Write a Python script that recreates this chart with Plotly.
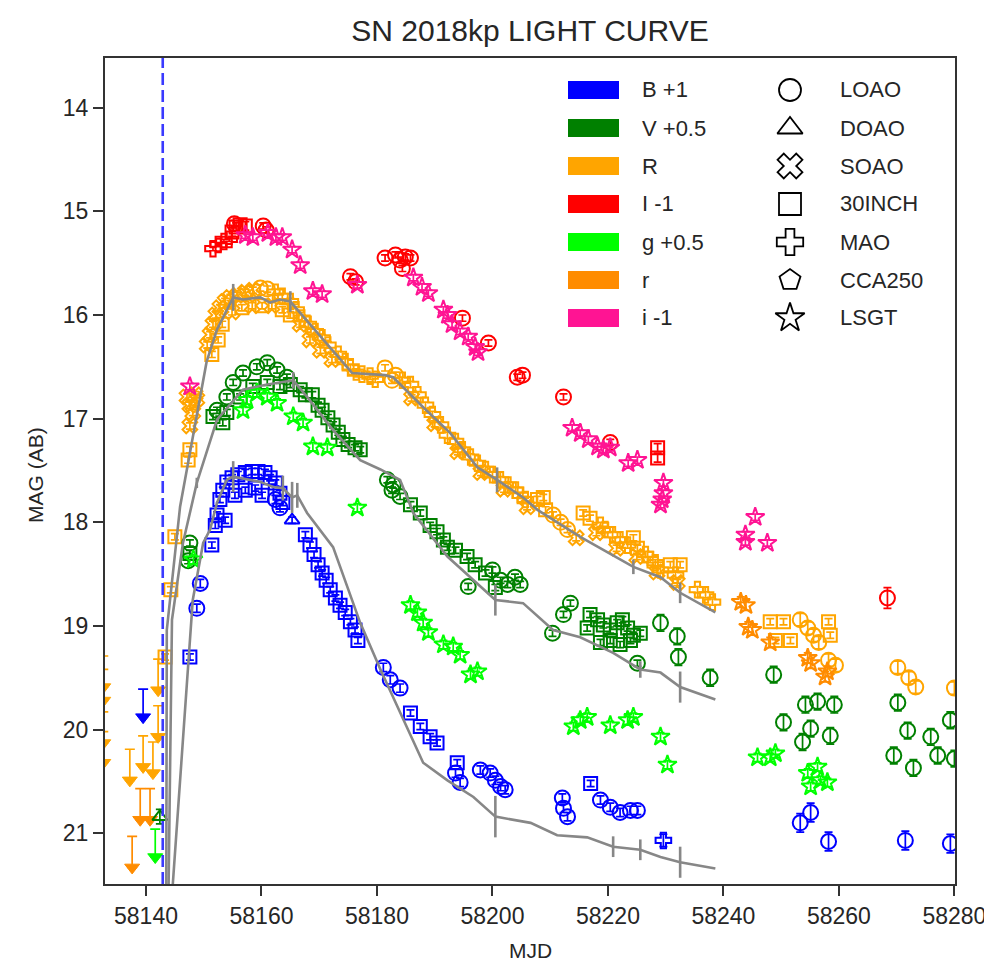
import plotly.graph_objects as go

# ---------------- DATA (plotted magnitudes, offsets already applied) ----------------
B_LOAO_mjd = [58148.8, 58149.4, 58162.4, 58163.2, 58181.1, 58182.3, 58184.0, 58193.6, 58194.4, 58197.9, 58199.6,
              58200.5, 58201.4, 58202.2, 58212.1, 58212.3, 58213.0, 58218.7, 58220.4, 58222.1, 58223.9, 58225.1]
B_LOAO_mag = [18.83, 18.59, 17.78, 17.86, 19.40, 19.52, 19.60, 20.42, 20.51, 20.39, 20.42,
              20.49, 20.55, 20.58, 20.66, 20.76, 20.84, 20.68, 20.75, 20.80, 20.78, 20.78]
B_LOAO_late_mjd = [58253.3, 58255.1, 58258.2, 58271.5, 58279.3]
B_LOAO_late_mag = [20.90, 20.80, 21.08, 21.07, 21.10]
B_30INCH_mjd = [58147.6, 58152.3, 58152.8, 58153.3, 58154.0, 58154.9, 58155.9, 58157.2, 58158.4, 58159.4, 58160.6,
                58161.5, 58162.4, 58163.2, 58163.7, 58151.4, 58152.0, 58153.7, 58155.4, 58157.2, 58158.9, 58160.1,
                58167.6, 58168.4, 58169.1, 58169.8, 58170.5, 58171.2, 58171.9, 58172.8, 58173.6, 58174.5, 58175.4,
                58176.2, 58176.7, 58185.8, 58187.5, 58189.2, 58190.4, 58193.9, 58217.0]
B_30INCH_mag = [19.30, 17.93, 17.78, 17.69, 17.61, 17.57, 17.54, 17.52, 17.51, 17.51, 17.52,
                17.57, 17.62, 17.72, 17.81, 18.22, 18.03, 17.98, 17.74, 17.69, 17.67, 17.74,
                18.12, 18.22, 18.31, 18.41, 18.49, 18.56, 18.65, 18.73, 18.80, 18.87, 18.96,
                19.04, 19.14, 19.84, 19.97, 20.07, 20.13, 20.32, 20.52]
B_DOAO_mjd = [58165.3]
B_DOAO_mag = [17.98]
B_MAO_mjd = [58229.6]
B_MAO_mag = [21.07]
B_UL_mjd = [58139.5]
B_UL_mag = [19.88]

V_LOAO_mjd = [58147.6, 58147.3, 58152.3, 58154.0, 58155.1, 58156.8, 58159.2, 58161.0, 58162.7, 58164.4,
              58181.8, 58182.8, 58182.6, 58184.0, 58195.8, 58200.0, 58201.4, 58202.6, 58203.9, 58204.8,
              58210.4, 58212.3, 58213.5, 58225.1]
V_LOAO_mag = [18.20, 18.37, 16.92, 16.79, 16.65, 16.56, 16.50, 16.46, 16.53, 16.60,
              17.59, 17.64, 17.69, 17.75, 18.62, 18.46, 18.56, 18.60, 18.53, 18.60,
              19.07, 18.89, 18.78, 19.36]
V_LOAO_late_mjd = [58229.1, 58232.0, 58232.2, 58237.7, 58248.7, 58250.4, 58254.2, 58256.3, 58259.2, 58253.7,
                   58255.1, 58258.5, 58270.2, 58271.9, 58269.5, 58272.9, 58275.9, 58277.1, 58279.3, 58280.0]
V_LOAO_late_mag = [18.97, 19.10, 19.30, 19.50, 19.47, 19.93, 19.76, 19.73, 19.76, 20.12,
                   19.99, 20.06, 19.74, 20.01, 20.25, 20.37, 20.07, 20.25, 19.91, 20.28]
V_30INCH_mjd = [58147.6, 58151.6, 58153.3, 58154.0, 58156.3, 58158.5, 58161.0, 58163.2, 58165.0, 58166.7,
                58167.6, 58168.8, 58169.8, 58170.5, 58171.5, 58172.4, 58173.3, 58174.1, 58175.0, 58176.2,
                58177.1, 58185.8, 58187.5, 58189.2, 58190.4, 58191.5, 58192.2, 58193.6, 58195.6, 58197.0,
                58198.8, 58200.5, 58216.4, 58216.9, 58218.2, 58219.2, 58220.4, 58221.6, 58222.5, 58223.4,
                58224.4, 58218.7, 58220.4, 58222.1, 58223.9, 58225.6]
V_30INCH_mag = [18.30, 16.98, 17.04, 16.94, 16.79, 16.69, 16.65, 16.69, 16.67, 16.72,
                16.77, 16.77, 16.87, 16.92, 16.99, 17.06, 17.13, 17.20, 17.25, 17.28,
                17.30, 17.83, 17.91, 18.03, 18.09, 18.17, 18.24, 18.27, 18.33, 18.41,
                18.49, 18.63, 19.02, 18.89, 18.94, 18.99, 19.04, 18.97, 18.94, 19.02,
                19.09, 19.16, 19.14, 19.18, 19.14, 19.07]
V_DOAO_mjd = [58142.4]
V_DOAO_mag = [20.84]

R_LOAO_mjd = [58159.8, 58161.0, 58181.4, 58182.6, 58183.2, 58210.5, 58211.8, 58213.0]
R_LOAO_mag = [15.74, 15.75, 16.51, 16.63, 16.58, 17.93, 18.00, 18.07]
R_LOAO_late_mjd = [58253.3, 58254.6, 58255.6, 58256.5, 58258.2, 58259.4, 58270.2, 58272.1, 58273.3, 58280.0]
R_LOAO_late_mag = [18.94, 19.02, 19.09, 19.16, 19.33, 19.38, 19.40, 19.50, 19.59, 19.60]
R_30INCH_mjd = [58143.3, 58144.3, 58145.0, 58147.3, 58147.6, 58151.4, 58152.5, 58153.2, 58156.6, 58160.1,
                58163.6, 58165.0, 58207.8, 58209.2, 58208.8, 58215.7, 58216.9, 58224.4, 58225.1, 58230.8,
                58232.5, 58248.1, 58250.4, 58249.0, 58251.6, 58258.2, 58258.5]
R_30INCH_mag = [19.30, 18.65, 18.14, 17.40, 17.30, 16.38, 16.24, 16.09, 15.93, 15.91,
                15.95, 16.00, 17.78, 17.88, 17.76, 17.91, 17.96, 18.15, 18.25, 18.41,
                18.41, 18.96, 18.96, 19.14, 19.14, 18.96, 19.09]
R_SOAO_mjd = [58147.1, 58147.6, 58148.1, 58147.6, 58148.5, 58148.8, 58150.6, 58151.1, 58151.6, 58152.1,
              58152.8, 58153.7, 58154.6, 58155.8, 58157.2, 58158.5, 58154.9, 58158.4, 58161.8, 58166.7,
              58168.4, 58170.2, 58172.2, 58186.0, 58190.0, 58194.0, 58198.0, 58202.0, 58206.0, 58214.5,
              58218.0, 58221.5, 58225.0, 58228.5, 58232.0]
R_SOAO_mag = [16.79, 16.87, 16.94, 17.07, 16.77, 16.81, 16.29, 16.19, 16.09, 16.00,
              15.93, 15.87, 15.83, 15.81, 15.78, 15.76, 15.97, 15.91, 15.91, 16.09,
              16.24, 16.34, 16.43, 16.80, 17.05, 17.32, 17.52, 17.68, 17.85, 18.15,
              18.10, 18.25, 18.33, 18.48, 18.58]
R_MAO_mjd = [58162.4, 58163.6, 58165.0, 58166.0, 58167.0, 58168.1, 58169.3, 58170.5, 58171.5, 58173.3,
             58174.5, 58175.4, 58176.4, 58177.4, 58178.8, 58179.7, 58184.4, 58185.8, 58187.1, 58188.4,
             58189.6, 58191.0, 58192.2, 58193.6, 58194.8, 58196.2, 58197.4, 58198.8, 58200.0, 58201.4,
             58202.7, 58204.0, 58204.8, 58205.7, 58218.7, 58219.5, 58220.8, 58222.1, 58223.4, 58226.5,
             58227.3, 58228.2, 58229.1, 58231.7, 58235.5, 58236.9, 58238.1]
R_MAO_mag = [15.78, 15.82, 15.87, 15.95, 16.03, 16.09, 16.16, 16.22, 16.29, 16.38,
             16.45, 16.51, 16.55, 16.57, 16.59, 16.62, 16.63, 16.67, 16.77, 16.87,
             16.96, 17.06, 17.16, 17.22, 17.30, 17.37, 17.43, 17.49, 17.54, 17.59,
             17.64, 17.69, 17.74, 17.78, 18.03, 18.07, 18.12, 18.17, 18.22, 18.31,
             18.36, 18.39, 18.46, 18.51, 18.65, 18.70, 18.77]
R_UL_mjd = [58137.2, 58139.5, 58141.2, 58142.1, 58142.1, 58132.6, 58132.6, 58132.6, 58132.6]
R_UL_mag = [20.49, 20.36, 20.42, 20.07, 19.62, 19.59, 19.72, 20.13, 20.32]

I_LOAO_mjd = [58155.3, 58160.3, 58160.8, 58175.4, 58176.3, 58181.4, 58183.2, 58184.0, 58184.9, 58185.8,
              58184.4, 58194.8, 58199.3, 58204.3, 58205.2, 58212.3, 58220.4]
I_LOAO_mag = [15.12, 15.14, 15.18, 15.63, 15.68, 15.45, 15.42, 15.47, 15.44, 15.45,
              15.55, 16.03, 16.27, 16.60, 16.58, 16.79, 17.23]
I_LOAO_late_mjd = [58268.4]
I_LOAO_late_mag = [18.73]
I_30INCH_mjd = [58154.9, 58155.6, 58156.3, 58157.2, 58228.6, 58228.6]
I_30INCH_mag = [15.20, 15.15, 15.13, 15.14, 17.28, 17.38]
I_MAO_mjd = [58151.6, 58152.5, 58153.5, 58154.4]
I_MAO_mag = [15.36, 15.32, 15.29, 15.27]

g_LSGT_mjd = [58148.2, 58157.5, 58159.2, 58161.0, 58162.7, 58156.8, 58165.5, 58167.2, 58168.9, 58171.4,
              58176.6, 58185.8, 58187.0, 58188.0, 58188.9, 58191.5, 58193.2, 58194.4, 58196.2, 58197.4,
              58215.2, 58216.4, 58214.0, 58220.4, 58223.4, 58224.4, 58229.1, 58230.3, 58245.9, 58248.1,
              58249.0, 58256.3, 58256.8, 58255.1, 58254.6, 58258.0]
g_LSGT_mag = [18.36, 16.82, 16.75, 16.79, 16.85, 16.92, 16.98, 17.04, 17.27, 17.28,
              17.86, 18.80, 18.87, 18.97, 19.06, 19.18, 19.20, 19.28, 19.47, 19.44,
              19.91, 19.88, 19.97, 19.96, 19.91, 19.88, 20.07, 20.34, 20.27, 20.27,
              20.23, 20.36, 20.49, 20.55, 20.42, 20.51]
g_UL_mjd = [58141.6]
g_UL_mag = [21.23]

r_LSGT_mjd = [58243.0, 58243.9, 58244.3, 58245.0, 58248.1, 58254.6, 58255.1, 58258.0, 58257.6]
r_LSGT_mag = [18.77, 18.80, 19.01, 19.04, 19.16, 19.31, 19.36, 19.44, 19.49]
r_UL_mjd = [58137.6, 58139.0, 58140.7]
r_UL_mag = [21.33, 20.87, 20.87]

i_LSGT_mjd = [58147.6, 58157.2, 58158.5, 58161.1, 58162.5, 58163.6, 58165.3, 58166.7, 58168.9, 58170.5,
              58176.6, 58186.3, 58187.8, 58188.9, 58191.5, 58192.2, 58193.0, 58194.4, 58195.8, 58197.0,
              58197.5, 58213.8, 58215.2, 58216.6, 58218.2, 58219.2, 58220.4, 58223.5, 58225.1, 58229.6,
              58229.6, 58229.4, 58229.1, 58245.5, 58243.8, 58243.8, 58247.6]
i_LSGT_mag = [16.69, 15.23, 15.25, 15.21, 15.25, 15.25, 15.37, 15.52, 15.77, 15.80,
              15.71, 15.64, 15.73, 15.79, 15.95, 16.00, 16.09, 16.16, 16.21, 16.31,
              16.36, 17.09, 17.14, 17.20, 17.27, 17.30, 17.28, 17.43, 17.40, 17.62,
              17.72, 17.78, 17.83, 17.95, 18.12, 18.19, 18.20]

model_R_mjd = [58143.5, 58143.6, 58145.9, 58148.8, 58150.5, 58152.3, 58155.1, 58156.8, 58159.8, 58161.5,
               58163.2, 58165.0, 58169.6, 58173.6, 58175.7, 58181.4, 58182.8, 58188.0, 58192.7, 58197.4,
               58200.8, 58205.3, 58207.8, 58215.2, 58224.4, 58229.1, 58232.5, 58238.6]
model_R_mag = [22.0, 19.04, 17.85, 16.95, 16.45, 16.14, 15.83, 15.85, 15.83, 15.88,
               15.85, 15.87, 16.17, 16.43, 16.56, 16.58, 16.60, 16.89, 17.14, 17.47,
               17.59, 17.76, 17.88, 18.14, 18.43, 18.53, 18.68, 18.87]
model_R_err = [0, 0, 0, 0, 0, 0, 0.13, 0, 0, 0,
               0, 0.1, 0, 0, 0, 0, 0, 0, 0, 0,
               0.12, 0, 0, 0, 0.07, 0, 0.1, 0]
model_V_mjd = [58143.8, 58144.5, 58146.4, 58148.8, 58152.3, 58156.8, 58161.0, 58163.2, 58165.5, 58167.9,
               58172.4, 58177.1, 58180.6, 58184.0, 58186.3, 58192.2, 58196.7, 58200.5, 58205.3, 58210.5,
               58215.2, 58220.9, 58225.6, 58229.1, 58232.5, 58238.6]
model_V_mag = [22.0, 18.94, 18.20, 17.62, 17.01, 16.72, 16.67, 16.65, 16.63, 16.79,
               17.11, 17.40, 17.49, 17.59, 17.91, 18.33, 18.56, 18.75, 18.78, 19.04,
               19.11, 19.26, 19.42, 19.45, 19.59, 19.71]
model_V_err = [0, 0, 0, 0.05, 0, 0, 0, 0, 0.08, 0,
               0, 0, 0, 0, 0, 0, 0, 0.15, 0, 0,
               0, 0, 0.08, 0, 0.15, 0]
model_B_mjd = [58144.0, 58148.1, 58149.9, 58151.1, 58152.3, 58154.0, 58155.1, 58159.8, 58162.0, 58163.7,
               58165.3, 58166.2, 58167.9, 58172.4, 58177.1, 58180.6, 58188.0, 58192.2, 58196.7, 58200.5,
               58206.6, 58211.2, 58216.4, 58220.9, 58225.6, 58229.1, 58232.5, 58238.6]
model_B_mag = [22.0, 18.75, 18.20, 18.07, 17.81, 17.59, 17.56, 17.61, 17.66, 17.67,
               17.76, 17.74, 17.91, 18.24, 18.97, 19.42, 20.32, 20.49, 20.65, 20.84,
               20.90, 21.02, 21.04, 21.13, 21.16, 21.23, 21.28, 21.34]
model_B_err = [0, 0, 0, 0, 0, 0, 0.15, 0, 0, 0.12,
               0.15, 0.12, 0, 0, 0, 0, 0, 0, 0, 0.2,
               0, 0, 0, 0.1, 0.1, 0, 0.15, 0]

explosion_mjd = 58142.9

band_labels = ["B +1", "V +0.5", "R", "I -1", "g +0.5", "r", "i -1"]
band_colors = ["#0000ff", "#008000", "#ffa500", "#ff0000", "#00ff00", "#ff8c00", "#ff1493"]
tel_labels = ["LOAO", "DOAO", "SOAO", "30INCH", "MAO", "CCA250", "LSGT"]
tel_symbols = ["circle-open", "triangle-up-open", "x-open", "square-open", "cross-open", "pentagon-open", "star-open"]

# ---------------- FIGURE ----------------
fig = go.Figure()
SYM = dict(zip(tel_labels, tel_symbols))
COL = dict(zip(band_labels, band_colors))


def add_obs(mjd, mag, err, band, tel, size=15):
    c = COL[band]
    fig.add_trace(go.Scatter(
        x=mjd, y=mag, mode="markers",
        marker=dict(symbol=SYM[tel], size=size, color=c, line=dict(color=c, width=2)),
        error_y=dict(type="constant", value=err, color=c, thickness=1.7, width=4),
        showlegend=False, hoverinfo="skip"))


def add_ul(mjd, mag, bar, band):
    c = COL[band]
    fig.add_trace(go.Scatter(
        x=mjd, y=mag, mode="markers",
        marker=dict(symbol="triangle-down", size=13, color=c, line=dict(color=c, width=1)),
        error_y=dict(type="constant", symmetric=False, value=0, valueminus=bar,
                     color=c, thickness=1.7, width=5),
        showlegend=False, hoverinfo="skip"))


# upper limits
add_ul(R_UL_mjd, R_UL_mag, 0.3, "R")
add_ul(r_UL_mjd, r_UL_mag, 0.3, "r")
add_ul(B_UL_mjd, B_UL_mag, 0.27, "B +1")
add_ul(g_UL_mjd, g_UL_mag, 0.27, "g +0.5")

# observations
add_obs(R_30INCH_mjd, R_30INCH_mag, 0.03, "R", "30INCH", 13)
add_obs(R_SOAO_mjd, R_SOAO_mag, 0.03, "R", "SOAO", 13)
add_obs(R_MAO_mjd, R_MAO_mag, 0.03, "R", "MAO", 13)
add_obs(R_LOAO_mjd, R_LOAO_mag, 0.03, "R", "LOAO")
add_obs(R_LOAO_late_mjd, R_LOAO_late_mag, 0.06, "R", "LOAO")
add_obs(r_LSGT_mjd, r_LSGT_mag, 0.05, "r", "LSGT", 14)

add_obs(V_30INCH_mjd, V_30INCH_mag, 0.03, "V +0.5", "30INCH", 13)
add_obs(V_LOAO_mjd, V_LOAO_mag, 0.03, "V +0.5", "LOAO")
add_obs(V_LOAO_late_mjd, V_LOAO_late_mag, 0.08, "V +0.5", "LOAO")
add_obs(V_DOAO_mjd, V_DOAO_mag, 0.07, "V +0.5", "DOAO", 13)
add_obs(g_LSGT_mjd, g_LSGT_mag, 0.04, "g +0.5", "LSGT", 14)

add_obs(B_30INCH_mjd, B_30INCH_mag, 0.03, "B +1", "30INCH", 13)
add_obs(B_LOAO_mjd, B_LOAO_mag, 0.04, "B +1", "LOAO")
add_obs(B_LOAO_late_mjd, B_LOAO_late_mag, 0.09, "B +1", "LOAO")
add_obs(B_DOAO_mjd, B_DOAO_mag, 0.03, "B +1", "DOAO", 13)
add_obs(B_MAO_mjd, B_MAO_mag, 0.06, "B +1", "MAO", 13)

add_obs(I_MAO_mjd, I_MAO_mag, 0.02, "I -1", "MAO", 13)
add_obs(I_30INCH_mjd, I_30INCH_mag, 0.04, "I -1", "30INCH", 13)
add_obs(I_LOAO_mjd, I_LOAO_mag, 0.03, "I -1", "LOAO")
add_obs(I_LOAO_late_mjd, I_LOAO_late_mag, 0.1, "I -1", "LOAO")
add_obs(i_LSGT_mjd, i_LSGT_mag, 0.03, "i -1", "LSGT", 14)

# template / model curves
for mx, my, me in [(model_R_mjd, model_R_mag, model_R_err),
                   (model_V_mjd, model_V_mag, model_V_err),
                   (model_B_mjd, model_B_mag, model_B_err)]:
    fig.add_trace(go.Scatter(
        x=mx, y=my, mode="lines", line=dict(color="#878787", width=2.6),
        error_y=dict(type="data", array=me, color="#878787", thickness=2.6, width=0),
        showlegend=False, hoverinfo="skip"))

# ---------------- LAYOUT GEOMETRY ----------------
# The page body adds an 8 px offset, so the figure is 8 px smaller than the window
OFF = 8
W, H = 992 - OFF, 968 - OFF
L, T = 105 - OFF, 58 - OFF
R_ = W - (955 - OFF)
Bm = H - (884 - OFF)
PW, PH = W - L - R_, H - T - Bm


def px(x):
    return (x - OFF - L) / PW


def py(y):
    return (H - Bm - (y - OFF)) / PH


row_y = [90, 128, 166, 204, 242, 280, 318]
shapes = []
annotations = []
for lab, col, yy in zip(band_labels, band_colors, row_y):
    shapes.append(dict(type="rect", xref="paper", yref="paper",
                       x0=px(568), x1=px(619), y0=py(yy + 9), y1=py(yy - 9),
                       fillcolor=col, line=dict(width=0)))
    annotations.append(dict(text=lab, xref="paper", yref="paper", x=px(640), y=py(yy),
                            xanchor="left", yanchor="middle", showarrow=False,
                            font=dict(size=22, color="#262626")))
for lab, yy in zip(tel_labels, row_y):
    annotations.append(dict(text=lab, xref="paper", yref="paper", x=px(838), y=py(yy),
                            xanchor="left", yanchor="middle", showarrow=False,
                            font=dict(size=22, color="#262626")))
fig.add_trace(go.Scatter(
    x=[px(790)] * len(tel_symbols), y=[py(v) for v in row_y], xaxis="x2", yaxis="y2",
    mode="markers",
    marker=dict(symbol=tel_symbols, size=22, color="black", line=dict(color="black", width=1.8)),
    showlegend=False, hoverinfo="skip"))

# explosion epoch
shapes.append(dict(type="line", xref="x", yref="paper", x0=explosion_mjd, x1=explosion_mjd,
                   y0=0, y1=1, line=dict(color="#3a3aff", width=2.6, dash="12px,5px")))

# axis titles
annotations.append(dict(text="MJD", xref="paper", yref="paper", x=0.5, y=py(950),
                        xanchor="center", yanchor="middle", showarrow=False,
                        font=dict(size=21, color="#262626")))
annotations.append(dict(text="MAG (AB)", xref="paper", yref="paper", x=px(35), y=py(475),
                        xanchor="center", yanchor="middle", showarrow=False, textangle=-90,
                        font=dict(size=21, color="#262626")))

fig.update_layout(
    width=W, height=H,
    margin=dict(l=L, r=R_, t=T, b=Bm, autoexpand=False),
    paper_bgcolor="white", plot_bgcolor="white",
    font=dict(family="Liberation Sans, Arial, sans-serif", color="#262626"),
    title=dict(text="SN 2018kp LIGHT CURVE", x=px(530), xref="paper", xanchor="center",
               y=1 - (30 - OFF) / H, yref="container", yanchor="middle", automargin=False,
               font=dict(size=30, color="#262626")),
    xaxis=dict(range=[58132.9, 58280.1], tick0=58140, dtick=20, tickformat="d",
               showgrid=False, zeroline=False, automargin=False,
               showline=True, mirror=True, linecolor="#333333", linewidth=2,
               ticks="outside", ticklen=10, tickwidth=1.5, tickcolor="#333333",
               tickfont=dict(size=23, color="#262626")),
    yaxis=dict(range=[21.49, 13.52], tick0=14, dtick=1, tickformat="d",
               showgrid=False, zeroline=False, automargin=False,
               showline=True, mirror=True, linecolor="#333333", linewidth=2,
               ticks="outside", ticklen=10, tickwidth=1.5, tickcolor="#333333",
               tickfont=dict(size=23, color="#262626")),
    xaxis2=dict(overlaying="x", range=[0, 1], visible=False, fixedrange=True),
    yaxis2=dict(overlaying="y", range=[0, 1], visible=False, fixedrange=True),
    shapes=shapes, annotations=annotations,
)

fig.write_html("out.html")
